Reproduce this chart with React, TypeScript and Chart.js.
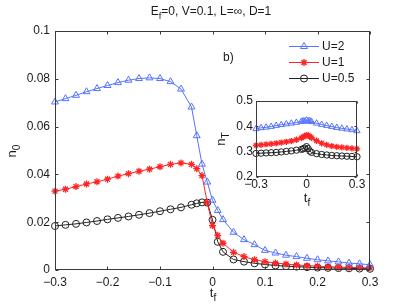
import React, { useEffect, useRef } from "react";
import { Chart, registerables } from "chart.js";
import { drawPoint } from "chart.js/helpers";

Chart.register(...registerables);

const FONT = "'Liberation Sans', Arial, Helvetica, sans-serif";
const TEXT = "#1a1a1a";
const AXIS = "#3a3a3a";
const BLUE = "rgb(85,115,255)";
const RED = "rgb(255,35,35)";
const BLACK = "rgb(35,35,35)";

// ---- main plot data ----
const tMain = [-0.3, -0.28, -0.26, -0.24, -0.22, -0.2, -0.18, -0.16, -0.14, -0.12, -0.1, -0.08, -0.06, -0.04, -0.03, -0.02, -0.01, 0, 0.01, 0.02, 0.04, 0.06, 0.08, 0.1, 0.12, 0.14, 0.16, 0.18, 0.2, 0.22, 0.24, 0.26, 0.28, 0.3];
const n0U2 = [0.0703, 0.0717, 0.0731, 0.0746, 0.0759, 0.0772, 0.0784, 0.0794, 0.0801, 0.0804, 0.0801, 0.0788, 0.0757, 0.0682, 0.0562, 0.0443, 0.0368, 0.0292, 0.0249, 0.0211, 0.0158, 0.0127, 0.0106, 0.0082, 0.0071, 0.0062, 0.0056, 0.0049, 0.0043, 0.0038, 0.0034, 0.0029, 0.0026, 0.0022];
const n0U1 = [0.033, 0.0338, 0.0349, 0.036, 0.0369, 0.038, 0.0393, 0.0403, 0.0413, 0.0422, 0.0432, 0.0442, 0.0448, 0.0442, 0.0424, 0.0395, 0.0282, 0.0186, 0.0145, 0.0112, 0.0074, 0.0056, 0.0043, 0.0035, 0.0029, 0.0025, 0.0021, 0.0018, 0.0016, 0.0014, 0.0012, 0.0011, 0.001, 0.0009];
const n0U05 = [0.0184, 0.0189, 0.0193, 0.0199, 0.0205, 0.0212, 0.0218, 0.0224, 0.0231, 0.0238, 0.0246, 0.0254, 0.0262, 0.0273, 0.0279, 0.0283, 0.0282, 0.021, 0.0118, 0.0076, 0.0044, 0.0035, 0.0028, 0.0023, 0.0019, 0.0016, 0.0014, 0.0012, 0.001, 0.0009, 0.0008, 0.0007, 0.0006, 0.0005];

// ---- inset data ----
const tInset = [-0.3, -0.27, -0.24, -0.21, -0.18, -0.15, -0.12, -0.09, -0.06, -0.03, -0.02, -0.01, 0, 0.01, 0.02, 0.03, 0.06, 0.09, 0.12, 0.15, 0.18, 0.21, 0.24, 0.27, 0.3];
const nTU2 = [0.39, 0.394, 0.396, 0.399, 0.403, 0.406, 0.409, 0.412, 0.415, 0.419, 0.421, 0.42, 0.424, 0.421, 0.422, 0.418, 0.412, 0.407, 0.403, 0.399, 0.395, 0.392, 0.389, 0.386, 0.382];
const nTU1 = [0.325, 0.327, 0.329, 0.331, 0.333, 0.336, 0.339, 0.342, 0.347, 0.354, 0.358, 0.362, 0.365, 0.364, 0.36, 0.355, 0.343, 0.333, 0.327, 0.322, 0.319, 0.317, 0.315, 0.313, 0.311];
const nTU05 = [0.293, 0.294, 0.295, 0.296, 0.297, 0.299, 0.301, 0.303, 0.306, 0.309, 0.311, 0.314, 0.32, 0.312, 0.302, 0.297, 0.292, 0.289, 0.287, 0.285, 0.284, 0.283, 0.282, 0.281, 0.28];

// ---- ticks & labels ----
const mainXTicks = [-0.3, -0.2, -0.1, 0, 0.1, 0.2, 0.3];
const mainXLabels = ["\u22120.3", "\u22120.2", "\u22120.1", "0", "0.1", "0.2", "0.3"];
const mainYTicks = [0, 0.02, 0.04, 0.06, 0.08, 0.1];
const mainYLabels = ["0", "0.02", "0.04", "0.06", "0.08", "0.1"];
const insetXTicks = [-0.3, 0, 0.3];
const insetXLabels = ["\u22120.3", "0", "0.3"];
const insetYTicks = [0.2, 0.3, 0.4, 0.5];
const insetYLabels = ["0.2", "0.3", "0.4", "0.5"];
const seriesNames = ["U=2", "U=1", "U=0.5"];
const titleParts: [string, boolean][] = [["E", false], ["f", true], ["=0, V=0.1, L=\u221e, D=1", false]];
const panelLabel = "b)";

// inset canvas placement (page px); its plot area is 256..357 x 101..177
const INSET_X = 250;
const INSET_Y = 95;
const INSET_W = 115;
const INSET_H = 88;
const INSET_PAD_TOP = 6;
const INSET_PAD_RIGHT = 8;
const INSET_YAXIS_W = 6;
const INSET_XAXIS_H = 6;

const seriesStyle = [
  { color: BLUE, style: "triangle", radius: 4, bw: 1 },
  { color: RED, style: "star", radius: 3.5, bw: 1.3 },
  { color: BLACK, style: "circle", radius: 3.5, bw: 1 },
];

function ds(label: string, xs: number[], ys: number[], idx: number, scale = 1) {
  const s = seriesStyle[idx];
  return {
    label,
    data: xs.map((x, i) => ({ x, y: ys[i] })),
    borderColor: s.color,
    backgroundColor: "rgba(0,0,0,0)",
    pointStyle: s.style,
    pointRadius: s.radius * scale,
    pointBorderColor: s.color,
    pointBackgroundColor: "rgba(0,0,0,0)",
    pointBorderWidth: s.bw,
    borderWidth: 1,
    showLine: true,
    tension: 0,
    clip: false as any,
  };
}

function drawRich(ctx: CanvasRenderingContext2D, parts: [string, boolean][], x: number, y: number, size: number) {
  const sub = size * 0.78;
  let w = 0;
  parts.forEach(([t, s]) => {
    ctx.font = `${s ? sub : size}px ${FONT}`;
    w += ctx.measureText(t).width;
  });
  let cx = x - w / 2;
  ctx.textAlign = "left";
  ctx.textBaseline = "alphabetic";
  parts.forEach(([t, s]) => {
    ctx.font = `${s ? sub : size}px ${FONT}`;
    ctx.fillText(t, cx, s ? y + size * 0.32 : y);
    cx += ctx.measureText(t).width;
  });
}

function makeFrame(xTicks: number[], yTicks: number[], tickLen: number, fillWhite: boolean) {
  return {
    id: "frame",
    beforeDatasetsDraw(chart: any) {
      if (!fillWhite) return;
      const a = chart.chartArea;
      const ctx = chart.ctx;
      ctx.save();
      ctx.fillStyle = "#fff";
      ctx.fillRect(a.left, a.top, a.right - a.left, a.bottom - a.top);
      ctx.restore();
    },
    afterDraw(chart: any) {
      const { ctx, chartArea: a } = chart;
      const xs = chart.scales.x;
      const ys = chart.scales.y;
      ctx.save();
      ctx.strokeStyle = AXIS;
      ctx.lineWidth = 1;
      const L = Math.round(a.left) + 0.5;
      const R = Math.round(a.right) - 0.5;
      const T = Math.round(a.top) + 0.5;
      const B = Math.round(a.bottom) - 0.5;
      ctx.beginPath();
      xTicks.forEach((v) => {
        const p = Math.round(xs.getPixelForValue(v)) + 0.5;
        ctx.moveTo(p, B);
        ctx.lineTo(p, B - tickLen);
        ctx.moveTo(p, T);
        ctx.lineTo(p, T + tickLen);
      });
      yTicks.forEach((v) => {
        const p = Math.round(ys.getPixelForValue(v)) + 0.5;
        ctx.moveTo(L, p);
        ctx.lineTo(L + tickLen, p);
        ctx.moveTo(R, p);
        ctx.lineTo(R - tickLen, p);
      });
      ctx.stroke();
      ctx.strokeRect(L, T, R - L, B - T);
      ctx.restore();
    },
  };
}

function axisOpts(min: number, max: number, ticks: number[], labels: string[], isX: boolean, size: number, padding: number, show = true) {
  return {
    type: "linear" as const,
    min,
    max,
    grid: { display: false, drawTicks: false },
    border: { display: false },
    afterBuildTicks: (s: any) => {
      s.ticks = ticks.map((v) => ({ value: v }));
    },
    afterFit: (s: any) => {
      if (isX) s.height = size;
      else s.width = size;
    },
    ticks: {
      display: show,
      callback: (_v: any, i: number) => labels[i],
      font: { family: FONT, size: 12 },
      color: TEXT,
      padding,
      maxRotation: 0,
      autoSkip: false,
    },
  };
}

const mainTextPlugin = {
  id: "mainText",
  afterDraw(chart: any) {
    const ctx = chart.ctx as CanvasRenderingContext2D;
    ctx.save();
    ctx.fillStyle = TEXT;
    drawRich(ctx, titleParts, 211, 15, 12);
    drawRich(ctx, [["t", false], ["f", true]], 213, 297, 13);
    ctx.save();
    ctx.translate(16, 151);
    ctx.rotate(-Math.PI / 2);
    drawRich(ctx, [["n", false], ["0", true]], 0, 0, 13);
    ctx.restore();

    // inset axis texts
    const iL = INSET_X + INSET_YAXIS_W;
    const iR = INSET_X + INSET_W - INSET_PAD_RIGHT;
    const iT = INSET_Y + INSET_PAD_TOP;
    const iB = INSET_Y + INSET_H - INSET_XAXIS_H;
    const yLo = insetYTicks[0];
    const yHi = insetYTicks[insetYTicks.length - 1];
    const xLo = insetXTicks[0];
    const xHi = insetXTicks[insetXTicks.length - 1];
    ctx.font = `12px ${FONT}`;
    ctx.fillStyle = TEXT;
    ctx.textAlign = "right";
    ctx.textBaseline = "middle";
    insetYTicks.forEach((v, i) => {
      const y = iB - ((v - yLo) / (yHi - yLo)) * (iB - iT);
      ctx.fillText(insetYLabels[i], iL - 3, y);
    });
    ctx.textAlign = "center";
    insetXTicks.forEach((v, i) => {
      const x = iL + ((v - xLo) / (xHi - xLo)) * (iR - iL);
      ctx.fillText(insetXLabels[i], x, iB + 7.5);
    });
    drawRich(ctx, [["t", false], ["f", true]], (iL + iR) / 2 + 0.5, 202, 13);
    ctx.save();
    ctx.translate(225, (iT + iB) / 2);
    ctx.rotate(-Math.PI / 2);
    drawRich(ctx, [["n", false], ["T", true]], 0, 0, 13);
    ctx.restore();

    // panel label
    ctx.font = `12px ${FONT}`;
    ctx.textAlign = "left";
    ctx.textBaseline = "alphabetic";
    ctx.fillText(panelLabel, 223, 61);

    // legend
    const ly = [46.5, 62.5, 78.5];
    seriesNames.forEach((name, i) => {
      const s = seriesStyle[i];
      const y = ly[i];
      ctx.strokeStyle = s.color;
      ctx.lineWidth = 1;
      ctx.beginPath();
      ctx.moveTo(289, y);
      ctx.lineTo(319, y);
      ctx.stroke();
      ctx.fillStyle = "rgba(0,0,0,0)";
      ctx.lineWidth = s.bw;
      drawPoint(ctx, { pointStyle: s.style as any, radius: s.radius, borderWidth: s.bw, rotation: 0 } as any, 304, y);
      ctx.fillStyle = TEXT;
      ctx.font = `12px ${FONT}`;
      ctx.textAlign = "left";
      ctx.textBaseline = "middle";
      ctx.fillText(name, 322, y + 0.5);
    });
    ctx.restore();
  },
};

export default function App() {
  const mainRef = useRef<HTMLCanvasElement>(null);
  const insetRef = useRef<HTMLCanvasElement>(null);

  useEffect(() => {
    const main = new Chart(mainRef.current!, {
      type: "scatter",
      data: {
        datasets: [
          ds(seriesNames[0], tMain, n0U2, 0),
          ds(seriesNames[1], tMain, n0U1, 1),
          ds(seriesNames[2], tMain, n0U05, 2),
        ] as any,
      },
      options: {
        responsive: false,
        animation: false,
        layout: { padding: { left: 0, right: 39, top: 31, bottom: 0 } },
        plugins: { legend: { display: false }, tooltip: { enabled: false }, title: { display: false } },
        scales: {
          x: axisOpts(-0.3, 0.3, mainXTicks, mainXLabels, true, 38, 5) as any,
          y: axisOpts(0, 0.1, mainYTicks, mainYLabels, false, 55, 5) as any,
        },
      },
      plugins: [makeFrame(mainXTicks, mainYTicks, 3, false), mainTextPlugin],
    });

    const inset = new Chart(insetRef.current!, {
      type: "scatter",
      data: {
        datasets: [
          ds(seriesNames[0], tInset, nTU2, 0, 0.9),
          ds(seriesNames[1], tInset, nTU1, 1, 0.9),
          ds(seriesNames[2], tInset, nTU05, 2, 0.9),
        ] as any,
      },
      options: {
        responsive: false,
        animation: false,
        layout: { padding: { left: 0, right: INSET_PAD_RIGHT, top: INSET_PAD_TOP, bottom: 0 } },
        plugins: { legend: { display: false }, tooltip: { enabled: false }, title: { display: false } },
        scales: {
          x: axisOpts(-0.3, 0.3, insetXTicks, insetXLabels, true, INSET_XAXIS_H, 2, false) as any,
          y: axisOpts(0.2, 0.5, insetYTicks, insetYLabels, false, INSET_YAXIS_W, 3, false) as any,
        },
      },
      plugins: [makeFrame(insetXTicks, insetYTicks, 2, true)],
    });

    return () => {
      main.destroy();
      inset.destroy();
    };
  }, []);

  return (
    <div style={{ position: "absolute", left: 0, top: 0, width: 409, height: 308, background: "#fff" }}>
      <canvas ref={mainRef} width={409} height={308} style={{ position: "absolute", left: 0, top: 0, width: 409, height: 308 }} />
      <canvas ref={insetRef} width={INSET_W} height={INSET_H} style={{ position: "absolute", left: INSET_X, top: INSET_Y, width: INSET_W, height: INSET_H, pointerEvents: "none" }} />
    </div>
  );
}
